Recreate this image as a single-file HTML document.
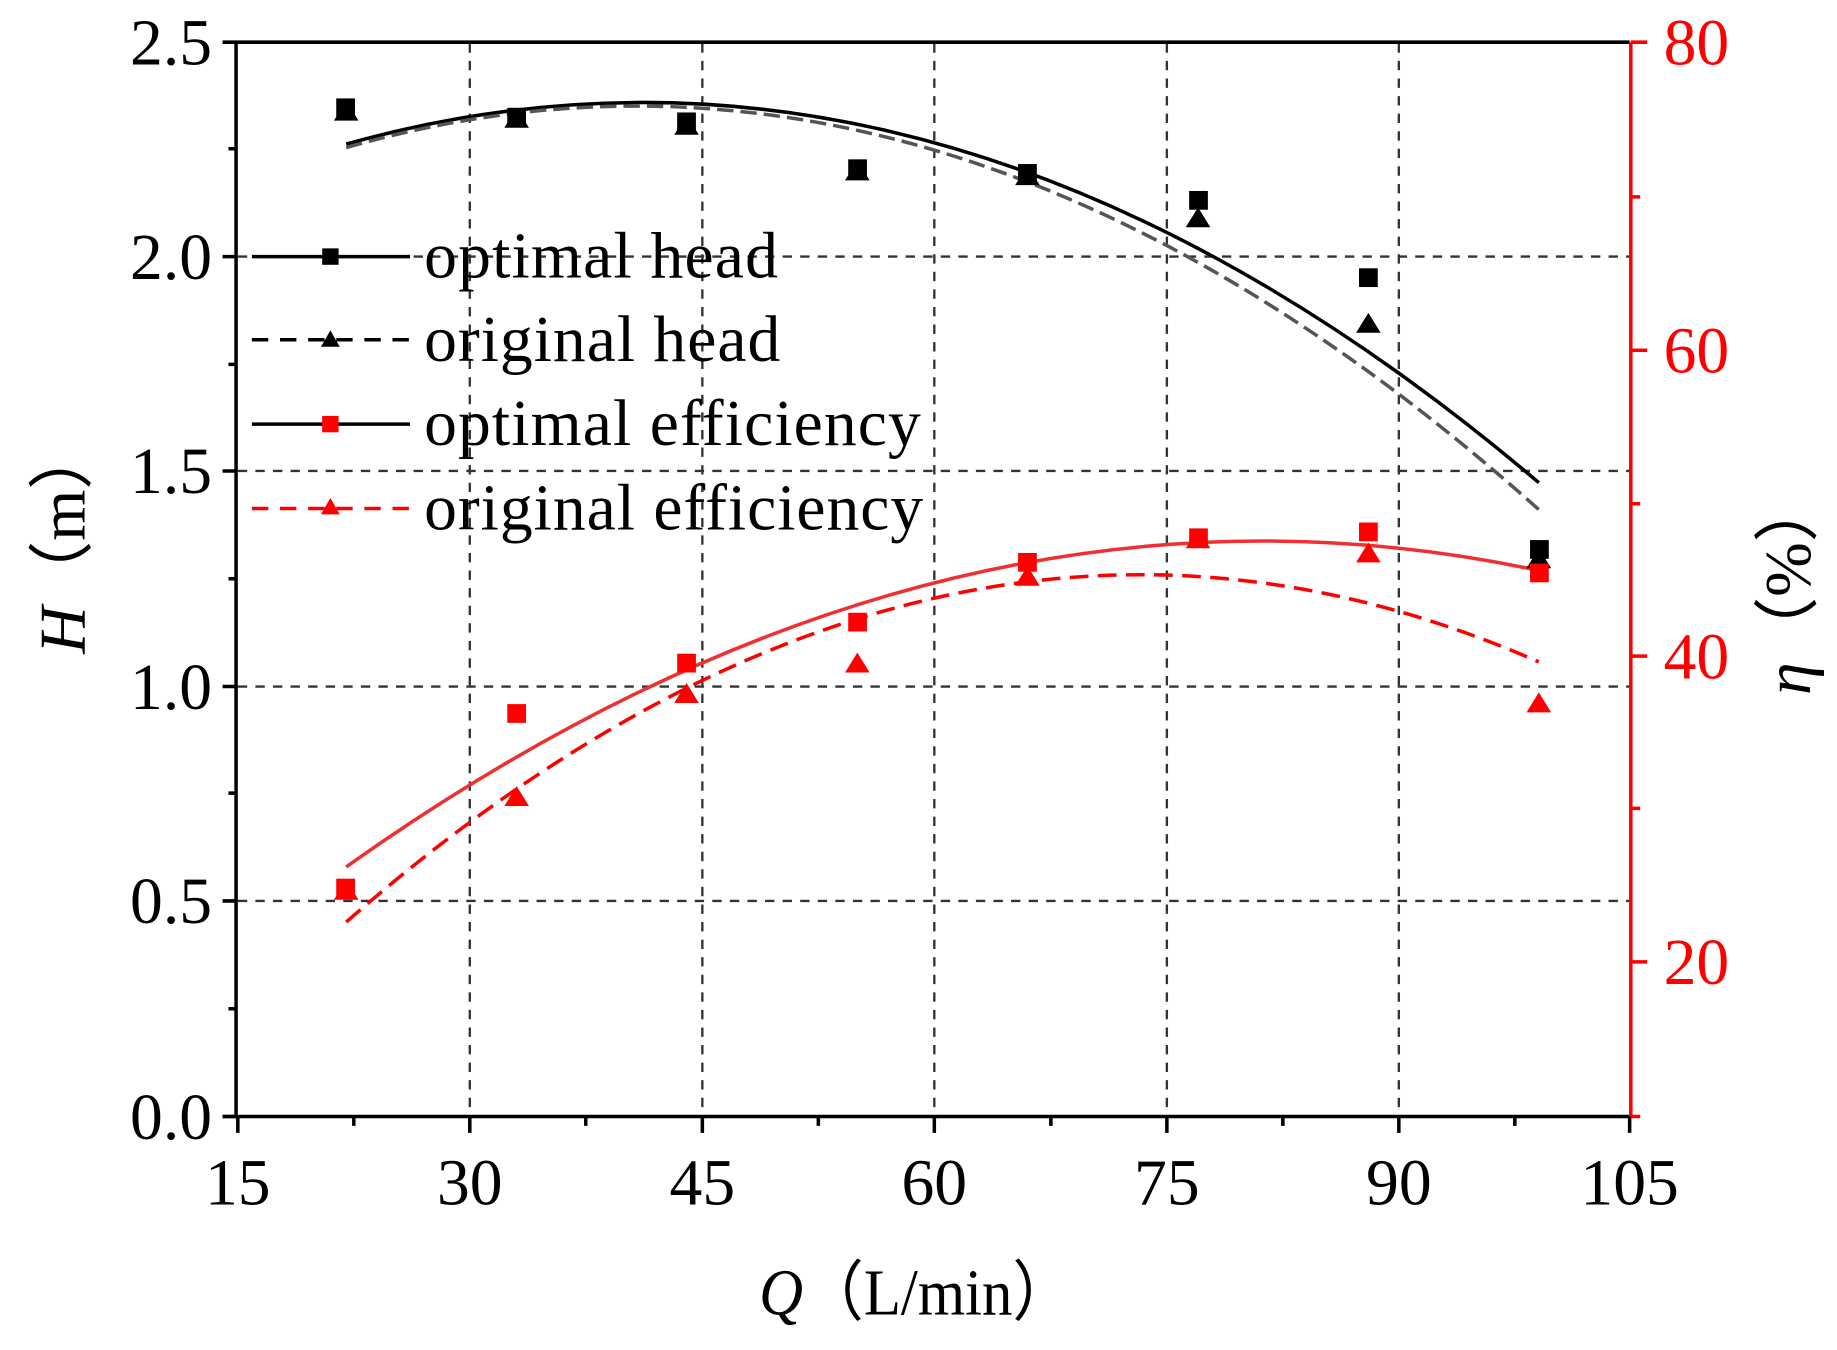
<!DOCTYPE html>
<html><head><meta charset="utf-8"><style>body{margin:0;background:#fff}svg{display:block}</style></head>
<body>
<svg width="1837" height="1350" viewBox="0 0 1568 1152.3" xmlns="http://www.w3.org/2000/svg" font-family="'Liberation Serif', serif">
<rect width="1568" height="1153" fill="#fff"/>
<g stroke="#333" stroke-width="2" stroke-dasharray="8,7" fill="none">
<line x1="401" y1="37" x2="401" y2="953"/><line x1="599.5" y1="37" x2="599.5" y2="953"/>
<line x1="797.5" y1="37" x2="797.5" y2="953"/><line x1="996" y1="37" x2="996" y2="953"/>
<line x1="1194" y1="37" x2="1194" y2="953"/>
<line x1="203" y1="769" x2="1391" y2="769"/><line x1="203" y1="586" x2="1391" y2="586"/>
<line x1="203" y1="402" x2="1391" y2="402"/><line x1="203" y1="219" x2="1391" y2="219"/>
</g>
<path d="M295.5,123 Q804.5,-20 1313.5,412" fill="none" stroke="#000" stroke-width="3"/>
<path d="M295.5,126 Q804.5,-20 1313.5,435" fill="none" stroke="#555" stroke-width="3" stroke-dasharray="14,6"/>
<path d="M295.5,740 Q804.5,378 1313.5,487" fill="none" stroke="#f03030" stroke-width="3"/>
<path d="M295.5,787 Q804.5,342 1313.5,565" fill="none" stroke="#f00" stroke-width="3" stroke-dasharray="16,8"/>
<g fill="#000">
<rect x="287" y="84" width="16" height="16"/><rect x="433" y="92" width="16" height="16"/><rect x="578" y="96" width="16" height="16"/><rect x="724" y="136" width="16" height="16"/><rect x="869" y="140" width="16" height="16"/><rect x="1015" y="163" width="16" height="16"/><rect x="1160" y="229" width="16" height="16"/><rect x="1306" y="461" width="16" height="16"/>
<path d="M295.5,86 l10.5,17 h-21z M441,92 l10.5,17 h-21z M586,98 l10.5,17 h-21z M731.8,137 l10.5,17 h-21z M877,141 l10.5,17 h-21z M1022.6,177 l10.5,17 h-21z M1168,267 l10.5,17 h-21z M1313.5,468 l10.5,17 h-21z"/>
</g>
<g fill="#f00">
<rect x="287" y="750" width="16" height="16"/><rect x="433" y="601" width="16" height="16"/><rect x="578" y="558" width="16" height="16"/><rect x="724" y="523" width="16" height="16"/><rect x="869" y="472" width="16" height="16"/><rect x="1015" y="451" width="16" height="16"/><rect x="1160" y="446" width="16" height="16"/><rect x="1306" y="481" width="16" height="16"/>
<path d="M295.5,751 l10.5,17 h-21z M441,671 l10.5,17 h-21z M586,583 l10.5,17 h-21z M731.8,557 l10.5,17 h-21z M877,483 l10.5,17 h-21z M1022.6,451 l10.5,17 h-21z M1168,463 l10.5,17 h-21z M1313.5,591 l10.5,17 h-21z"/>
</g>
<line x1="201.5" y1="36" x2="1391" y2="36" stroke="#000" stroke-width="3"/>
<line x1="201.5" y1="36" x2="201.5" y2="954" stroke="#000" stroke-width="3"/>
<line x1="190" y1="953" x2="1391" y2="953" stroke="#000" stroke-width="3"/>
<line x1="1392" y1="36" x2="1392" y2="954" stroke="#f00" stroke-width="3"/>
<g stroke="#000" stroke-width="3">
<path d="M190,953h12M190,769h12M190,586h12M190,402h12M190,219h12M190,36h12"/>
<path d="M195,861h7M195,677h7M195,494h7M195,311h7M195,127h7"/>
<path d="M203,953v14M401,953v14M599.5,953v14M797.5,953v14M996,953v14M1194,953v14M1391,953v14"/>
<path d="M302,953v8M500,953v8M698.5,953v8M897,953v8M1095,953v8M1293,953v8"/>
</g>
<g stroke="#f00" stroke-width="3">
<path d="M1392,36h14M1392,299h14M1392,560h14M1392,821h14"/>
<path d="M1392,168h8M1392,430h8M1392,690h8M1392,953h8"/>
</g>
<g font-size="56" text-anchor="end" fill="#000">
<text x="181" y="972">0.0</text><text x="181" y="788">0.5</text><text x="181" y="605">1.0</text><text x="181" y="421">1.5</text><text x="181" y="238">2.0</text><text x="181" y="55">2.5</text>
</g>
<g font-size="56" text-anchor="middle" fill="#000">
<text x="203" y="1028">15</text><text x="401" y="1028">30</text><text x="599.5" y="1028">45</text><text x="797.5" y="1028">60</text><text x="996" y="1028">75</text><text x="1194" y="1028">90</text><text x="1391" y="1028">105</text>
</g>
<g font-size="56" fill="#f00">
<text x="1420" y="55">80</text><text x="1420" y="318">60</text><text x="1420" y="579">40</text><text x="1420" y="840">20</text>
</g>
<text x="648" y="1122" font-size="56" textLength="268" lengthAdjust="spacingAndGlyphs"><tspan font-style="italic">Q</tspan>（L/min）</text>
<text transform="translate(72,460) rotate(-90)" font-size="56" text-anchor="middle"><tspan font-style="italic">H</tspan>（m）</text>
<text transform="translate(1545,500) rotate(-90)" font-size="56" text-anchor="middle"><tspan font-style="italic">η</tspan>（%）</text>
<g stroke-width="3">
<line x1="215" y1="219" x2="350" y2="219" stroke="#000"/>
<line x1="215" y1="290" x2="350" y2="290" stroke="#000" stroke-dasharray="14,10"/>
<line x1="215" y1="362" x2="350" y2="362" stroke="#000"/>
<line x1="215" y1="434" x2="350" y2="434" stroke="#f00" stroke-dasharray="14,10"/>
</g>
<rect x="275" y="212" width="14" height="14" fill="#000"/>
<path d="M282,282 l8,14 h-16z" fill="#000"/>
<rect x="275" y="355" width="14" height="14" fill="#f00"/>
<path d="M282,425 l8,14 h-16z" fill="#f00"/>
<g font-size="56" fill="#000" lengthAdjust="spacingAndGlyphs">
<text x="362" y="237" textLength="302">optimal head</text><text x="362" y="308" textLength="304">original head</text><text x="362" y="380" textLength="424">optimal efficiency</text><text x="362" y="452" textLength="426">original efficiency</text>
</g>
</svg>
</body></html>
